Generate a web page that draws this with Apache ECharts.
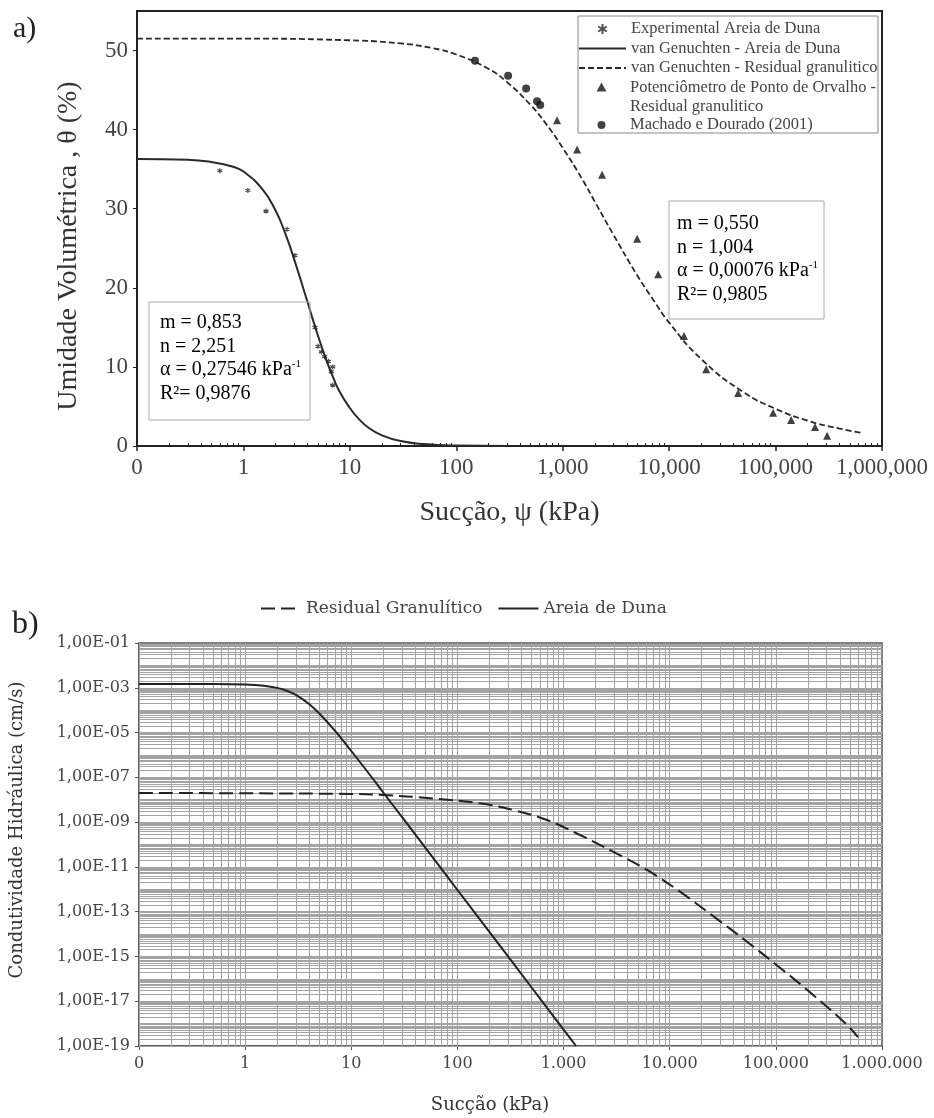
<!DOCTYPE html>
<html><head><meta charset="utf-8">
<script src="https://cdn.jsdelivr.net/npm/echarts@6/dist/echarts.min.js"></script>
<style>html,body{margin:0;padding:0;background:#fff}#c{width:934px;height:1118px}</style>
</head><body><div id="c"></div>
<script>
// ---------- Panel a) water retention ----------
const suctionDecades = [0.1, 1, 10, 100, 1000, 10000, 100000, 1000000];
const thetaTicks = [0, 10, 20, 30, 40, 50];

const areiaFitSuction = [0.1, 0.3, 0.5, 0.8, 1, 1.5, 2, 2.5, 3, 4, 5, 6, 7, 8, 10, 12, 15, 20, 30, 50, 100, 300];
const areiaFitTheta   = [36.3, 36.2, 35.9, 35.3, 34.7, 32.5, 29.8, 26.7, 23.6, 18.2, 14.0, 10.9, 8.6, 6.9, 4.8, 3.5, 2.3, 1.35, 0.62, 0.24, 0.06, 0.0];

const residualFitSuction = [0.1, 1, 10, 30, 60, 100, 200, 300, 500, 700, 1000, 1500, 2000, 3000, 5000, 7000, 10000, 20000, 50000, 100000, 200000, 400000, 660000];
const residualFitTheta   = [51.5, 51.5, 51.3, 50.9, 50.3, 49.5, 47.7, 46.0, 43.1, 40.7, 37.7, 33.9, 30.9, 26.7, 21.6, 18.6, 15.6, 11.0, 6.8, 4.7, 3.2, 2.2, 1.65];

const expAreiaSuction = [0.6, 1.1, 1.63, 2.57, 3.05, 4.71, 5.02, 5.4, 5.8, 6.3, 6.9, 6.7, 6.9];
const expAreiaTheta   = [34.8, 32.3, 29.7, 27.4, 24.1, 15.0, 12.6, 11.9, 11.3, 10.7, 10.0, 9.4, 7.7];

const potSuction = [885, 1365, 2344, 5000, 7890, 13800, 22300, 44500, 94900, 140000, 235000, 305000];
const potTheta   = [41.2, 37.5, 34.3, 26.2, 21.7, 13.9, 9.7, 6.7, 4.2, 3.3, 2.4, 1.3];

const machadoSuction = [150, 307, 453, 574, 614];
const machadoTheta   = [48.7, 46.8, 45.2, 43.6, 43.1];

// ---------- Panel b) hydraulic conductivity ----------
const kTickLabels = [1e-19, 1e-17, 1e-15, 1e-13, 1e-11, 1e-9, 1e-7, 1e-5, 1e-3, 1e-1];

const areiaKSuction = [0.1, 0.5, 1, 1.5, 2, 2.5, 3, 4, 5, 7, 10, 15, 20, 30, 50, 100, 200, 500, 1000, 1310];
const areiaK        = [1.48e-3, 1.47e-3, 1.40e-3, 1.24e-3, 9.9e-4, 7.2e-4, 4.8e-4, 1.9e-4, 7.1e-5, 1.22e-5, 1.5e-6, 1.27e-7, 2.1e-8, 1.7e-9, 7.1e-11, 9.3e-13, 1.24e-14, 4.1e-17, 5.4e-19, 1.0e-19];

const residualKSuction = [0.1, 1.1, 10, 20, 55, 163, 334, 698, 1429, 2924, 6110, 12500, 25590, 52360, 107100, 219200, 448500, 594000];
const residualK        = [2.0e-8, 1.94e-8, 1.8e-8, 1.63e-8, 1.16e-8, 6.9e-9, 3.5e-9, 1.24e-9, 2.66e-10, 4.77e-11, 7.28e-12, 7.8e-13, 6.4e-14, 4.9e-15, 3.38e-16, 2.1e-17, 1.07e-18, 2.5e-19];

// ---------- helpers ----------
const zip = (xs, ys) => xs.map((x, i) => [x, ys[i]]);
const group = (v, sep) => String(Math.round(v)).replace(/\B(?=(\d{3})+(?!\d))/g, sep);
function logCycleValues(d0, d1) { // 1..9 x 10^d positions (axis decoration only)
  const out = [];
  for (let d = d0; d <= d1; d++) for (let k = 1; k <= 9; k++) out.push(Number((k * Math.pow(10, d)).toPrecision(3)));
  return out;
}
const minorA = logCycleValues(-1, 5).filter(v => suctionDecades.indexOf(v) < 0);
const gridX_b = logCycleValues(-1, 5);
const gridY_b = logCycleValues(-19, -2);

const serifA = 'Liberation Serif';
const serifB = 'DejaVu Serif';
const potName = 'Potenciômetro de Ponto de Orvalho - Residual granulitico';
const asterisk = 'path://M5 0L5 10M0.67 2.5L9.33 7.5M0.67 7.5L9.33 2.5';
// legend icons: glyph centred in a 47-wide box (invisible zero-area strokes fix the box)
const legendTriangle = 'path://M23.5 0L28.5 9L18.5 9Z M0 0L47 0L0 0Z M0 29.5L47 29.5L0 29.5Z';
const legendCircle = 'path://M19.5 5A4 4 0 1 0 27.5 5A4 4 0 1 0 19.5 5Z M0 0L47 0L0 0Z M0 10L47 10L0 10Z';

const legendTextA = {fontFamily: serifA, fontSize: 16.5, color: '#444', lineHeight: 19.5};
const hideSym = {opacity: 0};

const richBox = {
  t: {fontFamily: serifA, fontSize: 20, lineHeight: 23.6, color: '#444'},
  s: {fontFamily: serifA, fontSize: 11, lineHeight: 14, color: '#444', verticalAlign: 'top'}
};

const option = {
  animation: false,
  backgroundColor: '#fff',
  grid: [
    {left: 137, right: 52, top: 11, bottom: 672, show: true, borderColor: '#222', borderWidth: 2},
    {left: 139, right: 52, top: 643, bottom: 72, show: true, borderColor: '#555', borderWidth: 1.5}
  ],
  xAxis: [
    {
      gridIndex: 0, type: 'log', min: 0.1, max: 1000000, position: 'bottom',
      axisLine: {show: true, lineStyle: {color: '#222', width: 2}},
      axisTick: {show: true, customValues: suctionDecades, length: 5, lineStyle: {color: '#222', width: 1.5}},
      axisLabel: {customValues: suctionDecades, fontFamily: serifA, fontSize: 23, color: '#444', margin: 10,
        formatter: v => v < 1 ? '0' : group(v, ',')},
      splitLine: {show: false},
      name: 'Sucção, ψ (kPa)', nameLocation: 'middle', nameGap: 53,
      nameTextStyle: {fontFamily: serifA, fontSize: 28, color: '#333'}
    },
    {
      gridIndex: 0, type: 'log', min: 0.1, max: 1000000, position: 'bottom',
      axisLine: {show: false},
      axisTick: {show: true, inside: true, customValues: minorA, length: 3, lineStyle: {color: '#222', width: 1}},
      axisLabel: {show: false}, splitLine: {show: false}
    },
    {
      gridIndex: 1, type: 'log', min: 0.1, max: 1000000, position: 'bottom',
      axisLine: {show: true, lineStyle: {color: '#555', width: 1.5}},
      axisTick: {show: true, customValues: suctionDecades, length: 4, lineStyle: {color: '#555'}},
      axisLabel: {customValues: suctionDecades, fontFamily: serifB, fontSize: 16, color: '#444', margin: 10,
        formatter: v => v < 1 ? '0' : group(v, '.')},
      splitLine: {show: false},
      name: 'Sucção (kPa)', nameLocation: 'middle', nameGap: 50,
      nameTextStyle: {fontFamily: serifB, fontSize: 18, color: '#333', padding: [0, 41, 0, 0]}
    }
  ],
  yAxis: [
    {
      gridIndex: 0, type: 'value', min: 0, max: 55,
      axisLine: {show: true, lineStyle: {color: '#222', width: 2}},
      axisTick: {show: true, customValues: thetaTicks, length: 4, lineStyle: {color: '#222'}},
      axisLabel: {customValues: thetaTicks, fontFamily: serifA, fontSize: 23, color: '#444', margin: 9},
      splitLine: {show: false},
      name: 'Umidade Volumétrica , θ (%)', nameLocation: 'middle', nameGap: 54,
      nameTextStyle: {fontFamily: serifA, fontSize: 28, color: '#333', padding: [0, 35, 0, 0]}
    },
    {
      gridIndex: 1, type: 'log', min: 1e-19, max: 1e-1,
      axisLine: {show: true, lineStyle: {color: '#555', width: 1.5}},
      axisTick: {show: true, customValues: kTickLabels, length: 4, lineStyle: {color: '#555'}},
      axisLabel: {customValues: kTickLabels, fontFamily: serifB, fontSize: 16, color: '#444', margin: 9,
        formatter: v => '1,00E-' + String(-Math.round(Math.log10(v))).padStart(2, '0')},
      splitLine: {show: false},
      name: 'Condutividade Hidráulica (cm/s)', nameLocation: 'middle', nameGap: 113,
      nameTextStyle: {fontFamily: serifB, fontSize: 18, color: '#333', padding: [0, 0, 0, 29]}
    }
  ],
  legend: [
    {
      data: ['Experimental Areia de Duna',
        {name: 'van Genuchten - Areia de Duna', itemStyle: hideSym},
        {name: 'van Genuchten - Residual granulitico', itemStyle: hideSym}],
      orient: 'vertical', left: 578, top: 19.25, padding: 0, itemGap: 0, itemWidth: 47, itemHeight: 10,
      symbolKeepAspect: true, selectedMode: false, textStyle: legendTextA
    },
    {
      data: [{name: potName, icon: legendTriangle}],
      formatter: () => 'Potenciômetro de Ponto de Orvalho -\nResidual granulitico',
      orient: 'vertical', left: 578, top: 77.75, padding: 0, itemGap: 0, itemWidth: 47, itemHeight: 29.5,
      symbolKeepAspect: true, selectedMode: false, textStyle: legendTextA
    },
    {
      data: [{name: 'Machado e Dourado (2001)', icon: legendCircle}],
      orient: 'vertical', left: 578, top: 115.25, padding: 0, itemGap: 0, itemWidth: 47, itemHeight: 10,
      symbolKeepAspect: true, selectedMode: false, textStyle: legendTextA
    },
    {
      data: [{name: 'Residual Granulítico', itemStyle: hideSym}, {name: 'Areia de Duna', itemStyle: hideSym}],
      orient: 'horizontal', left: 260, top: 600, padding: 0, itemGap: 15, itemWidth: 40, itemHeight: 14,
      selectedMode: false, textStyle: {fontFamily: serifB, fontSize: 17, color: '#444'}
    }
  ],
  graphic: [
    {type: 'text', left: 13, top: 14, style: {text: 'a)', font: '30px "Liberation Serif"', fill: '#222'}},
    {type: 'text', left: 12, top: 609, style: {text: 'b)', font: '32px "Liberation Serif"', fill: '#222'}},
    {type: 'rect', shape: {x: 578, y: 16, width: 300, height: 117}, style: {fill: 'none', stroke: '#888', lineWidth: 1}, z: 10},
    {type: 'rect', shape: {x: 669, y: 201, width: 155, height: 118}, style: {fill: 'none', stroke: '#aaa', lineWidth: 1}, z: 10},
    {type: 'text', x: 677, y: 212, z: 10, style: {
      text: '{t|m = 0,550}\n{t|n = 1,004}\n{t|α = 0,00076 kPa}{s|-1}\n{t|R²= 0,9805}', rich: richBox, verticalAlign: 'top'}},
    {type: 'rect', shape: {x: 149, y: 302, width: 161, height: 118}, style: {fill: 'none', stroke: '#aaa', lineWidth: 1}, z: 10},
    {type: 'text', x: 160, y: 311, z: 10, style: {
      text: '{t|m = 0,853}\n{t|n = 2,251}\n{t|α = 0,27546 kPa}{s|-1}\n{t|R²= 0,9876}', rich: richBox, verticalAlign: 'top'}}
  ],
  series: [
    // panel a
    {name: 'van Genuchten - Areia de Duna', type: 'line', xAxisIndex: 0, yAxisIndex: 0,
      data: zip(areiaFitSuction, areiaFitTheta), symbol: 'none', showSymbol: false, smooth: 0.5,
      lineStyle: {color: '#2a2a2a', width: 2}, itemStyle: {color: '#2a2a2a'}, z: 3},
    {name: 'van Genuchten - Residual granulitico', type: 'line', xAxisIndex: 0, yAxisIndex: 0,
      data: zip(residualFitSuction, residualFitTheta), symbol: 'none', showSymbol: false, smooth: 0.5,
      lineStyle: {color: '#2a2a2a', width: 1.8, type: [6, 3]}, itemStyle: {color: '#2a2a2a'}, z: 3},
    {name: 'Experimental Areia de Duna', type: 'scatter', xAxisIndex: 0, yAxisIndex: 0,
      data: zip(expAreiaSuction, expAreiaTheta), symbol: asterisk, symbolSize: 5,
      itemStyle: {color: '#222', borderColor: '#222', borderWidth: 1.2}, z: 4},
    {name: potName, type: 'scatter', xAxisIndex: 0, yAxisIndex: 0,
      data: zip(potSuction, potTheta), symbol: 'triangle', symbolSize: 8,
      itemStyle: {color: '#111'}, z: 4},
    {name: 'Machado e Dourado (2001)', type: 'scatter', xAxisIndex: 0, yAxisIndex: 0,
      data: zip(machadoSuction, machadoTheta), symbol: 'circle', symbolSize: 8,
      itemStyle: {color: '#111'}, z: 4},
    // panel b grid (log-cycle lines)
    {name: 'grade', type: 'line', xAxisIndex: 2, yAxisIndex: 1, data: [], z: 1, silent: true,
      markLine: {silent: true, z: 1, symbol: ['none', 'none'], label: {show: false}, animation: false, precision: 20,
        lineStyle: {color: '#a3a3a3', width: 1, type: 'solid'},
        emphasis: {disabled: true},
        data: gridX_b.map(v => ({xAxis: v})).concat(gridY_b.map(v => ({yAxis: v})))}},
    {name: 'Residual Granulítico', type: 'line', xAxisIndex: 2, yAxisIndex: 1,
      data: zip(residualKSuction, residualK), symbol: 'none', showSymbol: false, smooth: 0.4,
      lineStyle: {color: '#222', width: 2, type: [14, 6]}, itemStyle: {color: '#222'}, z: 8},
    {name: 'Areia de Duna', type: 'line', xAxisIndex: 2, yAxisIndex: 1,
      data: zip(areiaKSuction, areiaK), symbol: 'none', showSymbol: false, smooth: 0.4,
      lineStyle: {color: '#222', width: 2}, itemStyle: {color: '#222'}, z: 8}
  ]
};

const chart = echarts.init(document.getElementById('c'), null, {renderer: 'canvas'});
chart.setOption(option);
</script>
</body></html>
